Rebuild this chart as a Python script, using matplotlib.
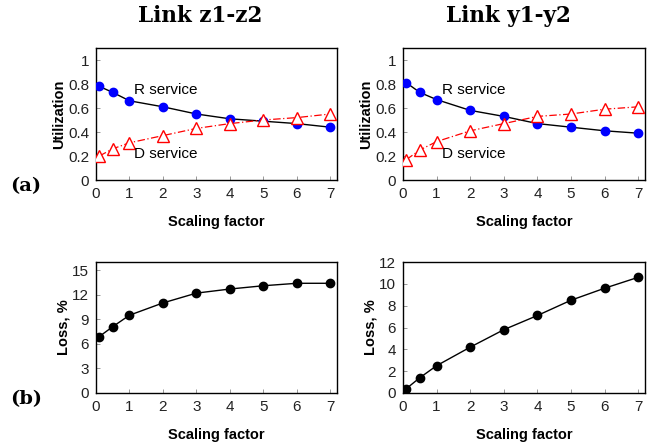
import matplotlib
matplotlib.use("Agg")
import matplotlib.pyplot as plt

scale = [0.1, 0.5, 1, 2, 3, 4, 5, 6, 7]
x_ticks = [0, 1, 2, 3, 4, 5, 6, 7]

# Link z1-z2
util_r_z = [0.78, 0.73, 0.66, 0.61, 0.55, 0.51, 0.49, 0.47, 0.44]
util_d_z = [0.20, 0.26, 0.31, 0.37, 0.43, 0.47, 0.50, 0.52, 0.55]
loss_z = [6.9, 8.1, 9.5, 11.0, 12.2, 12.7, 13.1, 13.4, 13.4]

# Link y1-y2
util_r_y = [0.81, 0.73, 0.67, 0.58, 0.53, 0.47, 0.44, 0.41, 0.39]
util_d_y = [0.17, 0.25, 0.32, 0.41, 0.47, 0.53, 0.55, 0.59, 0.61]
loss_y = [0.4, 1.4, 2.5, 4.2, 5.8, 7.1, 8.5, 9.6, 10.6]

titles = ["Link z1-z2", "Link y1-y2"]
util_ticks = [0, 0.2, 0.4, 0.6, 0.8, 1]
util_tick_labels = ["0", "0.2", "0.4", "0.6", "0.8", "1"]
loss_ticks_z = [0, 3, 6, 9, 12, 15]
loss_ticks_y = [0, 2, 4, 6, 8, 10, 12]

W, H = 655, 447
fig = plt.figure(figsize=(W / 100, H / 100), dpi=100)

sans = ["Liberation Sans", "DejaVu Sans"]
serif = ["DejaVu Serif"]


def make_axes(left, top, right, bottom):
    return fig.add_axes([left / W, 1 - bottom / H, (right - left) / W, (bottom - top) / H])


def style(ax):
    for s in ax.spines.values():
        s.set_linewidth(1.0)
    ax.tick_params(direction="in", length=3, width=0.6, color="#888888",
                   labelsize=11, pad=5)
    for lab in ax.get_xticklabels() + ax.get_yticklabels():
        lab.set_family(sans)
        lab.set_color("#222222")
    ax.set_xlim(0, 7.2)
    ax.set_xticks(x_ticks)
    ax.set_xlabel("Scaling factor", family=sans, fontweight="bold", fontsize=10.5, labelpad=10)


lefts = [96, 403]
rights = [337, 645]
utils = [(util_r_z, util_d_z), (util_r_y, util_d_y)]
losses = [(loss_z, loss_ticks_z, 16), (loss_y, loss_ticks_y, 12)]

for i in range(2):
    ax = make_axes(lefts[i], 48, rights[i], 180)
    r, d = utils[i]
    ax.plot(scale, r, color="black", lw=1.0, zorder=2)
    ax.plot(scale, r, "o", color="blue", ms=6, zorder=3)
    ax.plot(scale, d, color="red", lw=0.9, ls=(0, (6, 2, 1, 2)), zorder=2)
    ax.plot(scale, d, "^", mfc="white", mec="red", mew=1.0, ms=8, zorder=3)
    ax.set_ylim(0, 1.1)
    ax.set_yticks(util_ticks)
    ax.set_yticklabels(util_tick_labels)
    style(ax)
    ax.set_ylabel("Utilization", family=sans, fontweight="bold", fontsize=10.5, labelpad=1)
    ax.text(1.15, 0.75, "R service", family=sans, fontsize=11, va="center")
    ax.text(1.15, 0.22, "D service", family=sans, fontsize=11, va="center")
    cx = ((lefts[i] + rights[i]) / 2 - 16) / W
    fig.text(cx, 1 - 16 / H, titles[i], family=serif, fontweight="bold",
             fontsize=15.5, ha="center", va="center")

    ax2 = make_axes(lefts[i], 262, rights[i], 393)
    vals, ticks, top = losses[i]
    ax2.plot(scale, vals, "-o", color="black", lw=1.0, ms=6)
    ax2.set_ylim(0, top)
    ax2.set_yticks(ticks)
    style(ax2)
    ax2.set_ylabel("Loss, %", family=sans, fontweight="bold", fontsize=10.5, labelpad=1)

fig.text(10 / W, 1 - 186 / H, "(a)", family=serif, fontweight="bold", fontsize=14, va="center")
fig.text(10 / W, 1 - 399 / H, "(b)", family=serif, fontweight="bold", fontsize=14, va="center")

fig.savefig("out.png", dpi=100)
